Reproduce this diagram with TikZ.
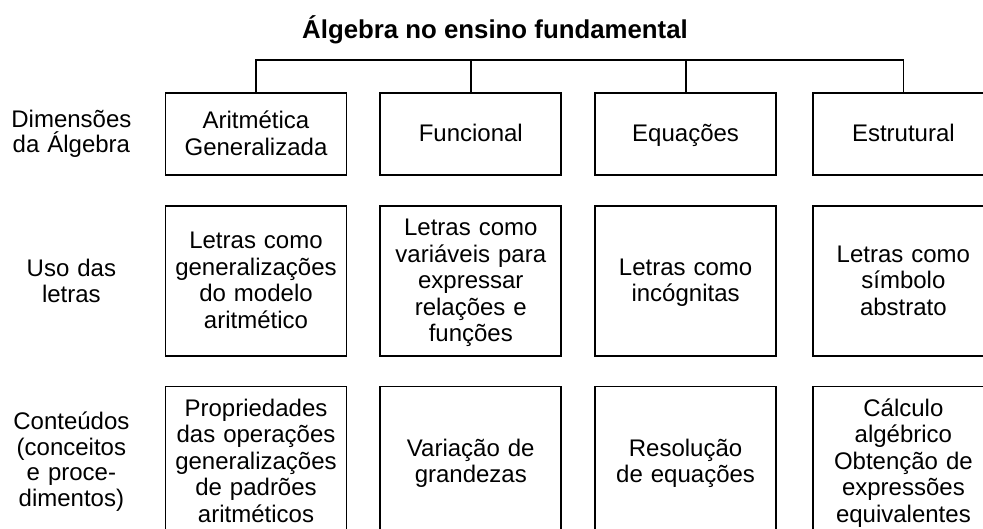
\documentclass[tikz,border=0pt]{standalone}
\usepackage{fontspec}
\setmainfont{Liberation Sans}
\usetikzlibrary{positioning}

\begin{document}
\begin{tikzpicture}[x=1pt, y=-1pt,
  box/.style={draw, line width=1.8pt, align=center, text width=181pt,
              inner sep=0pt, minimum height=#1, font=\fontsize{24}{26.5}\selectfont,
              execute at begin node=\vphantom{Á}, execute at end node=\vphantom{ç}},
  box/.default=150pt,
  lbl/.style={align=center, text width=124pt, inner sep=0pt,
              font=\fontsize{24}{25.5}\selectfont},
  lig/.style={line width=1.8pt},
  node distance=29pt and 32pt]
\useasboundingbox (0,0) rectangle (983,529);
\clip (0,0) rectangle (983,529);
\node[font=\bfseries\fontsize{25.8}{28}\selectfont] (titulo) at (495,30) {Álgebra no ensino fundamental};
% dimensoes
\node[box=82pt] (a1) at (256,134) {Aritmética\\Generalizada};
\node[box=82pt, right=of a1] (a2) {Funcional};
\node[box=82pt, right=of a2] (a3) {Equações};
\node[box=82pt, right=35pt of a3] (a4) {Estrutural};
% uso das letras
\node[box, below=of a1] (b1) {Letras como\\generalizações\\do modelo\\aritmético};
\node[box, below=of a2] (b2) {Letras como\\variáveis para\\expressar\\relações e\\funções};
\node[box, below=of a3] (b3) {Letras como\\incógnitas};
\node[box, below=of a4] (b4) {Letras como\\símbolo\\abstrato};
% conteudos
\node[box, below=of b1] (c1) {Propriedades\\das operações\\generalizações\\de padrões\\aritméticos};
\node[box, below=of b2] (c2) {Variação de\\grandezas};
\node[box, below=of b3] (c3) {Resolução\\de equações};
\node[box, below=of b4] (c4) {Cálculo\\algébrico\\Obtenção de\\expressões\\equivalentes};
% rotulos das linhas
\node[lbl, left=31pt of a1] (l1) {Dimensões\\da Álgebra};
\node[lbl, left=31pt of b1] (l2) {Uso das\\letras};
\node[lbl, left=31pt of c1] (l3) {Conteúdos\\(conceitos\\e proce-\\dimentos)};
% chave superior
\coordinate (barra) at (0,60);
\draw[lig] (a1.north) -- (a1.north |- barra) -- (a4.north |- barra) -- (a4.north);
\foreach \n in {a2,a3} \draw[lig] (\n.north) -- (\n.north |- barra);
\end{tikzpicture}
\end{document}
